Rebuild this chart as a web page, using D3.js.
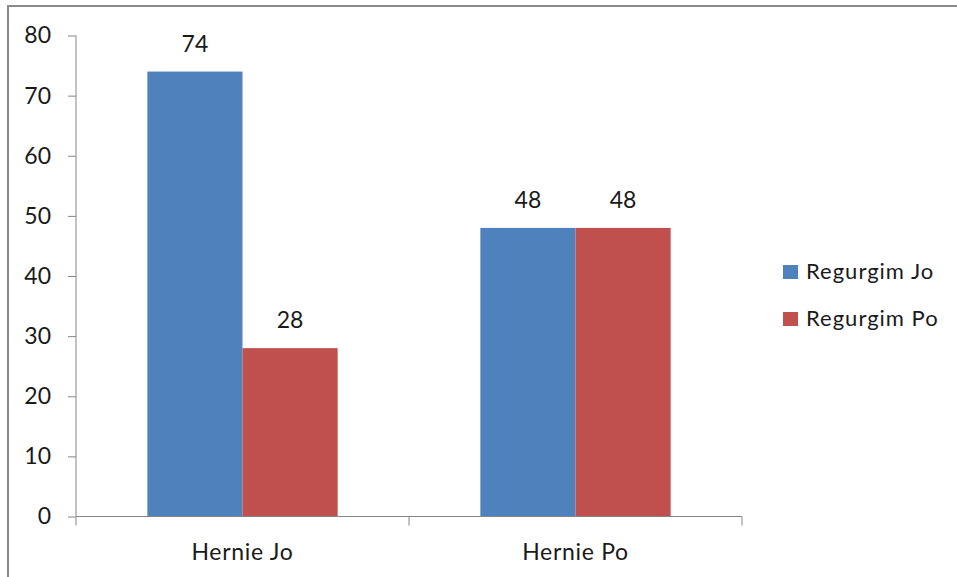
<!DOCTYPE html>
<html><head><meta charset="utf-8">
<script src="https://cdn.jsdelivr.net/npm/d3@7"></script>
<style>
html,body{margin:0;padding:0;background:#fff;}
svg{display:block;font-family:Lato,"Open Sans",sans-serif;}
</style></head>
<body>
<script>
const categories = ["Hernie Jo", "Hernie Po"];
const seriesNames = ["Regurgim Jo", "Regurgim Po"];
const regurgimJo = [74, 48];
const regurgimPo = [28, 48];
const yTicks = [0, 10, 20, 30, 40, 50, 60, 70, 80];
const colors = ["#4F81BD", "#C0504D"];

(function () {
const W = 957, H = 577;
const textColor = "#1a1a1a";
const svg = d3.select("body").append("svg").attr("width", W).attr("height", H);

// outer frame
svg.append("rect").attr("x", 8).attr("y", 6).attr("width", W + 10).attr("height", H + 10)
  .attr("fill", "none").attr("stroke", "#8a8a8a").attr("stroke-width", 2);

const pLeft = 76, pRight = 742, pTop = 35.5, pBottom = 516.5;
const x = d3.scaleBand().domain(categories).range([pLeft, pRight]).paddingInner(0).paddingOuter(0);
const y = d3.scaleLinear().domain([0, 80]).range([pBottom, pTop]);
const inner = d3.scaleBand().domain(seriesNames)
  .range([0, x.bandwidth()]).paddingInner(0).paddingOuter(0.75);

const data = categories.map((c, i) => ({cat: c, vals: [regurgimJo[i], regurgimPo[i]]}));

// bars
const g = svg.append("g");
data.forEach(d => {
  d.vals.forEach((v, j) => {
    const bx = x(d.cat) + inner(seriesNames[j]);
    g.append("rect")
      .attr("x", bx).attr("y", y(v))
      .attr("width", inner.bandwidth()).attr("height", y(0) - y(v))
      .attr("fill", colors[j]);
    g.append("text")
      .attr("x", bx + inner.bandwidth() / 2).attr("y", y(v) - 20)
      .attr("text-anchor", "middle").attr("font-size", 23).attr("fill", textColor)
      .text(v);
  });
});

// y axis
const yAxis = d3.axisLeft(y).tickValues(yTicks).tickSize(8).tickPadding(17);
const ya = svg.append("g").attr("transform", `translate(${pLeft},0)`).call(yAxis);
ya.select(".domain").attr("stroke", "#868686").attr("d", `M0,${pTop}V${pBottom}`);
ya.selectAll(".tick line").attr("stroke", "#868686");
ya.selectAll(".tick text").attr("font-size", 23).attr("fill", textColor).attr("font-family", "Lato");

// x axis
const xa = svg.append("g").attr("transform", `translate(0,${pBottom})`)
  .call(d3.axisBottom(x).tickSize(0).tickPadding(27));
xa.select(".domain").attr("stroke", "#868686").attr("d", `M${pLeft},0H${pRight}`);
xa.selectAll(".tick text").attr("font-size", 23).attr("fill", textColor).attr("font-family", "Lato")
  .attr("letter-spacing", "0.7px");
// category boundary ticks
const bounds = [pLeft, x(categories[1]), pRight];
svg.append("g").selectAll("line").data(bounds).join("line")
  .attr("x1", d => d).attr("x2", d => d).attr("y1", pBottom).attr("y2", pBottom + 9)
  .attr("stroke", "#868686");

// legend
const lg = svg.append("g");
seriesNames.forEach((s, j) => {
  const ly = 265 + j * 47;
  lg.append("rect").attr("x", 783).attr("y", ly).attr("width", 15).attr("height", 14).attr("fill", colors[j]);
  lg.append("text").attr("x", 806).attr("y", ly + 14).attr("font-size", 22).attr("fill", textColor)
    .attr("letter-spacing", "1px").text(s);
});
})();
</script>
</body></html>
